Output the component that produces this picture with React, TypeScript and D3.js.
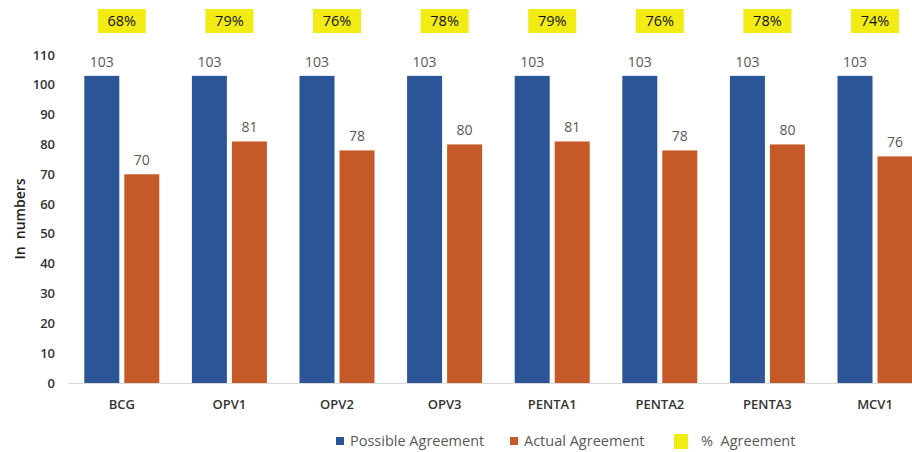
import React from "react";
import * as d3 from "d3";

const categories = ["BCG", "OPV1", "OPV2", "OPV3", "PENTA1", "PENTA2", "PENTA3", "MCV1"];
const possible = [103, 103, 103, 103, 103, 103, 103, 103];
const actual = [70, 81, 78, 80, 81, 78, 80, 76];
const percent = ["68%", "79%", "76%", "78%", "79%", "76%", "78%", "74%"];
const yTicks = [0, 10, 20, 30, 40, 50, 60, 70, 80, 90, 100, 110];

const W = 912;
const H = 452;
const BLUE = "#2B5597";
const ORANGE = "#C55A28";
const YELLOW = "#F2EC14";
const FONT = "'Open Sans', 'Noto Sans', sans-serif";

export default function App() {
  const left = 68;
  const step = 107.6;
  const x = d3.scaleBand<string>().domain(categories).range([left, left + step * categories.length]).paddingInner(0).paddingOuter(0);
  const y = d3.scaleLinear().domain([0, 110]).range([383, 55]);
  const barW = 35;
  const gap = 5;

  return (
    <svg width={W} height={H} style={{ position: "absolute", left: 0, top: 0, background: "#fff" }} fontFamily={FONT}>
      {yTicks.map((t) => (
        <text key={t} x={55} y={y(t)} dy="0.35em" textAnchor="end" fontSize={13} fontWeight={600} fill="#333">
          {t}
        </text>
      ))}
      <text transform={`translate(25,219) rotate(-90)`} textAnchor="middle" fontSize={14} fontWeight={600} fill="#222" xmlSpace="preserve">
        In  numbers
      </text>
      <line x1={left} x2={W} y1={y(0) + 0.5} y2={y(0) + 0.5} stroke="#d9d9d9" strokeWidth={1} />
      {categories.map((c, i) => {
        const cx = (x(c) as number) + x.bandwidth() / 2;
        const bx = cx - gap / 2 - barW;
        const ox = cx + gap / 2;
        return (
          <g key={c}>
            <rect x={bx} y={y(possible[i])} width={barW} height={y(0) - y(possible[i])} fill={BLUE} />
            <rect x={ox} y={y(actual[i])} width={barW} height={y(0) - y(actual[i])} fill={ORANGE} />
            <text x={bx + barW / 2} y={y(possible[i]) - 9} textAnchor="middle" fontSize={14} fill="#595959">
              {possible[i]}
            </text>
            <text x={ox + barW / 2} y={y(actual[i]) - 9} textAnchor="middle" fontSize={14} fill="#595959">
              {actual[i]}
            </text>
            <rect x={cx - 24} y={9} width={48} height={24} fill={YELLOW} />
            <text x={cx} y={21} dy="0.35em" textAnchor="middle" fontSize={14.5} fill="#111">
              {percent[i]}
            </text>
            <text x={cx} y={404} dy="0.35em" textAnchor="middle" fontSize={13} fontWeight={600} fill="#333">
              {c}
            </text>
          </g>
        );
      })}
      <g fontSize={14.5} fill="#595959">
        <rect x={336} y={437} width={8} height={8} fill={BLUE} />
        <text x={350} y={441} dy="0.35em">Possible Agreement</text>
        <rect x={510} y={437} width={8} height={8} fill={ORANGE} />
        <text x={524} y={441} dy="0.35em">Actual Agreement</text>
        <rect x={674} y={434} width={14} height={15} fill={YELLOW} />
        <text x={701} y={441} dy="0.35em" xmlSpace="preserve">%  Agreement</text>
      </g>
    </svg>
  );
}
